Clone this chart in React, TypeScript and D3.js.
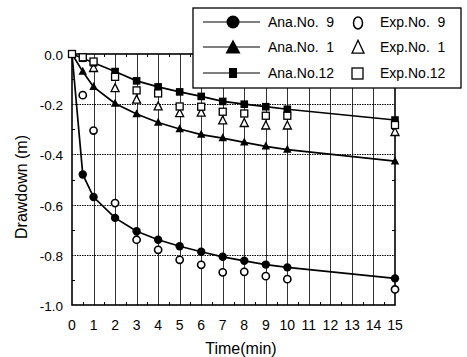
import React from "react";
import * as d3 from "d3";

const timeAna = [0, 0.5, 1, 2, 3, 4, 5, 6, 7, 8, 9, 10, 15];
const ana9 = [0, -0.48, -0.57, -0.653, -0.706, -0.74, -0.766, -0.788, -0.808, -0.824, -0.839, -0.85, -0.894];
const ana1 = [0, -0.07, -0.131, -0.197, -0.239, -0.273, -0.299, -0.321, -0.335, -0.352, -0.368, -0.381, -0.427];
const ana12 = [0, -0.017, -0.035, -0.07, -0.107, -0.131, -0.151, -0.169, -0.189, -0.2, -0.21, -0.22, -0.263];

const timeExp9 = [0.5, 1, 2, 3, 4, 5, 6, 7, 8, 9, 10, 15];
const exp9 = [-0.164, -0.305, -0.594, -0.74, -0.78, -0.82, -0.84, -0.87, -0.868, -0.885, -0.897, -0.938];
const timeExp1 = [1, 2, 3, 4, 5, 6, 7, 8, 9, 10, 15];
const exp1 = [-0.057, -0.137, -0.183, -0.21, -0.237, -0.235, -0.266, -0.276, -0.286, -0.286, -0.312];
const timeExp12 = [0, 0.5, 1, 2, 3, 4, 5, 6, 7, 8, 9, 10, 15];
const exp12 = [0, -0.013, -0.03, -0.091, -0.145, -0.157, -0.209, -0.21, -0.23, -0.237, -0.246, -0.246, -0.283];

const xTicks = [0, 1, 2, 3, 4, 5, 6, 7, 8, 9, 10, 11, 12, 13, 14, 15];
const yTicks = [0, -0.2, -0.4, -0.6, -0.8, -1.0];
const legendAna = ["Ana.No.  9", "Ana.No.  1", "Ana.No.12"];
const legendExp = ["Exp.No.  9", "Exp.No.  1", "Exp.No.12"];

const FONT = "'Liberation Sans', Arial, Helvetica, sans-serif";

const L = 72, R = 395, T = 54, B = 305;

const triPath = (cx: number, cy: number, w: number, h: number) =>
  `M${cx},${cy - h * 0.6}L${cx + w / 2},${cy + h * 0.4}L${cx - w / 2},${cy + h * 0.4}Z`;

const px = (v: number) => Math.round(v) + 0.5;

export default function App() {
  const x = d3.scaleLinear().domain([0, 15]).range([L, R]);
  const y = d3.scaleLinear().domain([-1, 0]).range([B, T]);
  const line = d3.line<[number, number]>().x((d) => x(d[0])).y((d) => y(d[1]));
  const zip = (t: number[], v: number[]) => t.map((tt, i) => [tt, v[i]] as [number, number]);

  const minorY = [-0.9, -0.7, -0.5, -0.3, -0.1];
  const minorX = xTicks.slice(0, 15).map((t) => t + 0.5);

  return (
    <svg width={467} height={357} style={{ position: "absolute", left: 0, top: 0, background: "#fff" }} fontFamily={FONT}>
      <rect x={0} y={0} width={467} height={357} fill="#fff" />
      {/* grid */}
      {xTicks.slice(1, 15).map((t) => (
        <rect key={"gx" + t} x={Math.round(x(t))} y={T} width={1} height={B - T} fill="#333" />
      ))}
      {yTicks.slice(1, 5).map((v) => (
        <line key={"gy" + v} x1={L} x2={R} y1={px(y(v))} y2={px(y(v))} stroke="#000" strokeWidth={1.1} strokeDasharray="1.5,1" />
      ))}
      {/* minor ticks */}
      {minorY.map((v, i) => (
        <g key={"my" + i}>
          <line x1={L} x2={L + 3} y1={px(y(v))} y2={px(y(v))} stroke="#000" />
          <line x1={R} x2={R - 3} y1={px(y(v))} y2={px(y(v))} stroke="#000" />
        </g>
      ))}
      {minorX.map((t, i) => (
        <g key={"mx" + i}>
          <line x1={px(x(t))} x2={px(x(t))} y1={B} y2={B - 3} stroke="#000" />
          <line x1={px(x(t))} x2={px(x(t))} y1={T} y2={T + 3} stroke="#000" />
        </g>
      ))}
      {/* frame */}
      <rect x={L} y={T} width={R - L} height={B - T} fill="none" stroke="#000" strokeWidth={1.6} />
      {/* lines */}
      {[ana9, ana1, ana12].map((s, i) => (
        <path key={"l" + i} d={line(zip(timeAna, s)) || ""} fill="none" stroke="#000" strokeWidth={1.7} />
      ))}
      {/* exp markers */}
      {zip(timeExp9, exp9).map((d, i) => (
        <circle key={"e9" + i} cx={x(d[0])} cy={y(d[1])} r={3.6} fill="#fff" stroke="#000" strokeWidth={1.6} />
      ))}
      {zip(timeExp1, exp1).map((d, i) => (
        <path key={"e1" + i} d={triPath(x(d[0]), y(d[1]), 8, 8)} fill="#fff" stroke="#000" strokeWidth={1.3} />
      ))}
      {/* ana markers */}
      {zip(timeAna, ana9).slice(1).map((d, i) => (
        <circle key={"a9" + i} cx={x(d[0])} cy={y(d[1])} r={4.2} fill="#000" />
      ))}
      {zip(timeAna, ana1).slice(1).map((d, i) => (
        <path key={"a1" + i} d={triPath(x(d[0]), y(d[1]), 8.5, 8)} fill="#000" />
      ))}
      {zip(timeAna, ana12).slice(1).map((d, i) => (
        <rect key={"a12" + i} x={x(d[0]) - 3.8} y={y(d[1]) - 3.8} width={7.6} height={7.6} fill="#000" />
      ))}
      {zip(timeExp12, exp12).map((d, i) => (
        <rect key={"e12" + i} x={x(d[0]) - 3.5} y={y(d[1]) - 3.5} width={7} height={7} fill="#fff" stroke="#000" strokeWidth={1.3} />
      ))}
      {/* axis labels */}
      {xTicks.map((t) => (
        <text key={"xt" + t} x={x(t)} y={330} textAnchor="middle" fontSize={14} fill="#000">
          {t}
        </text>
      ))}
      {yTicks.map((v) => (
        <text key={"yt" + v} x={63} y={y(v) + 6} textAnchor="end" fontSize={13.5} fill="#000">
          {v.toFixed(1)}
        </text>
      ))}
      <text x={241} y={354} textAnchor="middle" fontSize={16} fill="#000">Time(min)</text>
      <text transform={`translate(27,187) rotate(-90)`} textAnchor="middle" fontSize={16} fill="#000">Drawdown (m)</text>
      {/* legend */}
      <rect x={193} y={8} width={268} height={80} fill="#fff" stroke="#000" strokeWidth={1.3} />
      {[22, 47, 73].map((ry, i) => (
        <g key={"lg" + i}>
          <line x1={203} x2={260} y1={ry} y2={ry} stroke="#000" strokeWidth={1.2} />
          {i === 0 && <circle cx={233} cy={ry} r={6.5} fill="#000" />}
          {i === 1 && <path d={triPath(233, ry + 1, 15, 14)} fill="#000" />}
          {i === 2 && <rect x={229} y={ry - 5} width={8} height={10} fill="#000" />}
          <text x={268} y={ry + 5} fontSize={14} fill="#000" style={{ whiteSpace: "pre" }}>{legendAna[i]}</text>
          {i === 0 && <ellipse cx={358} cy={ry + 1} rx={4.5} ry={6} fill="#fff" stroke="#000" strokeWidth={1.5} />}
          {i === 1 && <path d={triPath(358, ry + 1, 12, 13)} fill="#fff" stroke="#000" strokeWidth={1.3} />}
          {i === 2 && <rect x={352} y={ry - 5} width={11} height={11} fill="#fff" stroke="#000" strokeWidth={1.3} />}
          <text x={380} y={ry + 5} fontSize={14} fill="#000" style={{ whiteSpace: "pre" }}>{legendExp[i]}</text>
        </g>
      ))}
    </svg>
  );
}
